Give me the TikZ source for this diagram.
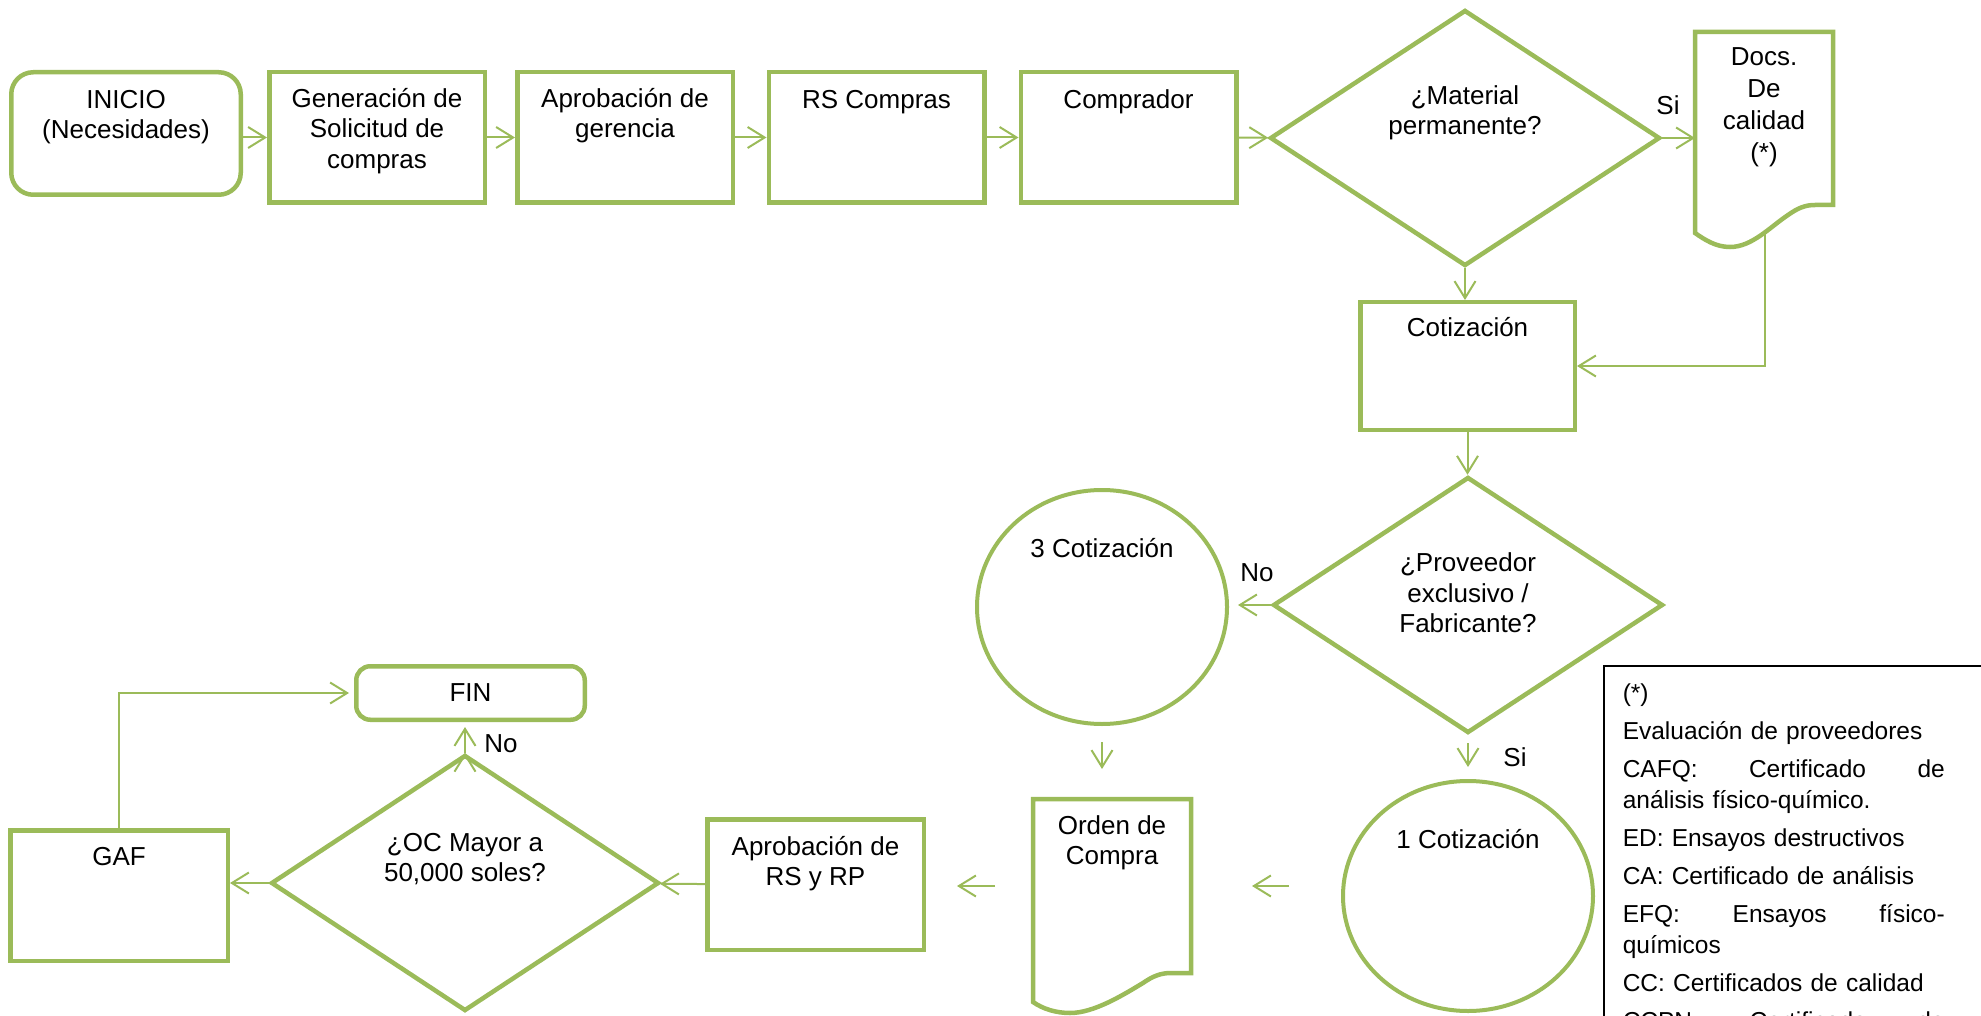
\documentclass[tikz,border=0pt]{standalone}
\usepackage{fontspec}
\setmainfont{Liberation Sans}
\usetikzlibrary{shapes.geometric,arrows.meta,calc}
\definecolor{verde}{HTML}{9BBB59}

\begin{document}
\begin{tikzpicture}[x=1pt, y=-1pt, >={Straight Barb[length=17pt,width=21pt]},
  font=\fontsize{26}{30.5}\selectfont,
  caja/.style={draw=verde, line width=4.5pt, minimum width=215.5pt, minimum height=130.5pt, inner sep=0pt},
  cajar/.style={caja, rounded corners=22pt},
  rombo/.style={diamond, draw=verde, line width=4.5pt, minimum width=390pt, minimum height=256pt, inner sep=0pt},
  circulo/.style={ellipse, draw=verde, line width=4pt, minimum width=250pt, inner sep=0pt},
  hoja/.style={minimum width=138pt, inner sep=0pt, outer sep=0pt},
  linea/.style={draw=verde, line width=4.5pt},
  flecha/.style={->, draw=verde, line width=2pt},
  txt/.style={anchor=north, align=center, inner sep=0pt, yshift=-14pt, execute at begin node=\vphantom{Á}},
  txtc/.style={anchor=center, align=center, inner sep=0pt, execute at begin node=\vphantom{Á}},
  etiq/.style={inner sep=0pt},
  nota/.style={draw=black, line width=1.5pt, anchor=north west, align=left, text width=380pt, inner xsep=19pt, inner ysep=18pt, font=\fontsize{24.5}{31}\selectfont}]
  \useasboundingbox (0,0) rectangle (1981,1016);
  \clip (0,0) rectangle (1981,1016);

  % fila de arriba
  \node[cajar, minimum width=229.5pt, minimum height=122.5pt, label={[txt, yshift=-6pt]north:INICIO\\(Necesidades)}] (ini) at (126,133.5) {};
  \node[caja, label={[txt, yshift=-4pt]north:Generación de\\Solicitud de\\compras}] (gen) at (377,137.5) {};
  \node[caja, label={[txt, yshift=-4pt]north:Aprobación de\\gerencia}] (apr) at (625,137.5) {};
  \node[caja, label={[txt, yshift=-2pt]north:RS Compras}] (rsc) at (876.5,137.5) {};
  \node[caja, label={[txt, yshift=-2pt]north:Comprador}] (com) at (1128.5,137.5) {};
  \node[rombo, label={[txtc, yshift=25pt]center:¿Material\\permanente?}] (d1) at (1465,138) {};
  \node[hoja, minimum height=173pt, label={[txt, yshift=-1pt, font=\fontsize{26}{32}\selectfont]north:Docs.\\De\\calidad\\(*)}] (docs) at (1764,118.5) {};
  \node[caja, minimum width=214.5pt, minimum height=127.5pt, label={[txt]north:Cotización}] (cot) at (1467.5,366) {};

  % centro
  \node[rombo, label={[txtc, yshift=12pt]center:¿Proveedor\\exclusivo /\\Fabricante?}] (d2) at (1468,605) {};
  \node[circulo, minimum height=234pt, label={[txtc, yshift=61pt]center:3 Cotización}] (c3) at (1102,607) {};
  \node[circulo, minimum height=230pt, label={[txtc, yshift=59pt]center:1 Cotización}] (c1) at (1468,896) {};
  \node[hoja, minimum width=158pt, minimum height=174pt, label={[txt, yshift=-2pt]north:Orden de\\Compra}] (oc) at (1112,886) {};

  % fila de abajo
  \node[caja, minimum width=216.5pt, label={[txt, yshift=-5pt]north:Aprobación de\\RS y RP}] (ars) at (815.5,884.5) {};
  \node[rombo, minimum width=388pt, label={[txtc, yshift=24pt]center:{¿OC Mayor a\\50,000 soles?}}] (d3) at (465,883) {};
  \node[caja, minimum width=217.5pt, label={[txt, yshift=-1pt]north:GAF}] (gaf) at (119,895.5) {};
  \node[cajar, minimum width=228.5pt, minimum height=53.5pt, rounded corners=14pt] (fin) at (470.5,693) {FIN};

  \node[etiq] (si1) at (1668,105) {Si};
  \node[etiq] (no1) at (1257,573) {No};
  \node[etiq] (si2) at (1515,757) {Si};
  \node[etiq] (no2) at (501,744) {No};

  \node[nota] (ref) at (1603,665) {(*)\\[7pt]
    Evaluación de proveedores\\[7pt]
    \makebox[322pt]{CAFQ:\hfill Certificado\hfill de}\\
    análisis físico-químico.\\[7pt]
    ED: Ensayos destructivos\\[7pt]
    CA: Certificado de análisis\\[7pt]
    \makebox[322pt]{EFQ:\hfill Ensayos\hfill físico-}\\
    químicos\\[7pt]
    CC: Certificados de calidad\\[7pt]
    \makebox[322pt]{CCPN:\hfill Certificado\hfill de}};

  % documentos
  \draw[linea] (docs.south east) -- (docs.north east) -- (docs.north west)
    -- ($(docs.south west)+(0,28)$)
    .. controls +(10,7) and +(-14,0) .. ($(docs.south west)+(35,42)$)
    .. controls +(22,0) and +(-18,12) .. ($(docs.south east)+(-45,10)$)
    .. controls +(10,-7) and +(-10,0) .. ($(docs.south east)+(-18,0)$) -- cycle;
  \draw[linea] (oc.south east) -- (oc.north east) -- (oc.north west)
    -- ($(oc.south west)+(0,29)$)
    .. controls +(10,7) and +(-14,0) .. ($(oc.south west)+(37,40)$)
    .. controls +(24,0) and +(-20,12) .. ($(oc.south east)+(-48,10)$)
    .. controls +(10,-7) and +(-10,0) .. ($(oc.south east)+(-20,0)$) -- cycle;
  \coordinate (dw) at ($(docs.south west)+(70,25)$);

  \path[flecha]
    (ini.east |- gen.west) edge (gen.west)
    (gen) edge (apr)
    (apr) edge (rsc)
    (rsc) edge (com)
    (com) edge (d1)
    (d1.east) edge (d1.east -| docs.west)
    (d1.south) edge (d1.south |- cot.north)
    (cot.south) edge (cot.south |- d2.north)
    (d2.west) edge [shorten >=9pt] (d2.west -| c3.east)
    (c3.south) edge [shorten <=16pt, shorten >=30pt] (c3.south |- oc.north)
    (d2.south) edge [shorten <=8pt, shorten >=12pt] (d2.south |- c1.north)
    (c1.west |- oc.east) edge [shorten <=52pt, shorten >=61pt] (oc.east)
    (oc.west) edge [shorten <=38pt, shorten >=31pt] (oc.west -| ars.east)
    (ars) edge (d3)
    (d3.west) edge (d3.west -| gaf.east)
    (d3.north) edge [shorten >=5pt] (d3.north |- fin.south);
  \draw[flecha] (dw) |- (cot.east);
  \draw[flecha, shorten >=5pt] (gaf.north) |- (fin.west);
\end{tikzpicture}
\end{document}
